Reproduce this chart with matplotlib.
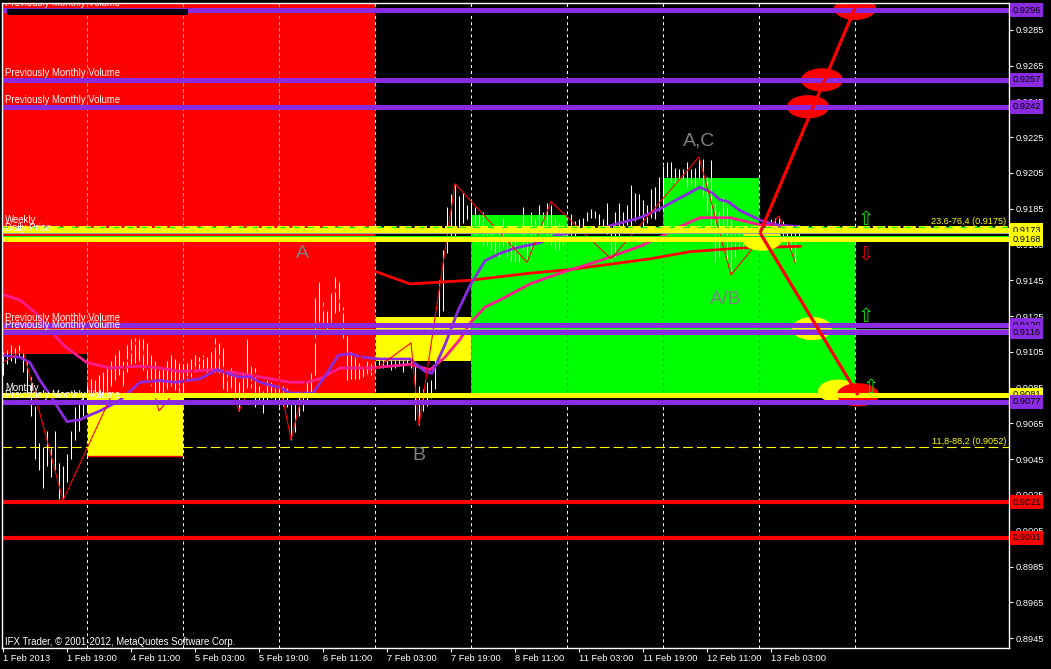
import numpy as np
import matplotlib
matplotlib.use('Agg')
import matplotlib.pyplot as plt
import matplotlib.transforms as mtransforms
from matplotlib.patches import Rectangle, Polygon, Ellipse

plt.rcParams['font.family'] = ['Liberation Sans', 'DejaVu Sans']
plt.rcParams['lines.scale_dashes'] = False

# ---------------- data ----------------
# hourly bars (index = hour bar), prices in pips (price * 10000)
bar_high_pips = [
    9105, 9106, 9109, 9107, 9109, 9106, 9100, 9091, 9075, 9054,
    9052, 9061, 9051, 9061, 9043, 9041, 9048, 9061, 9074, 9077,
    9082, 9086, 9090, 9089, 9092, 9094, 9096, 9100, 9103, 9106,
    9100, 9109, 9112, 9113, 9114, 9112, 9110, 9103, 9100, 9095,
    9096, 9100, 9103, 9101, 9099, 9098, 9099, 9101, 9103, 9102,
    9103, 9102, 9105, 9113, 9110, 9107, 9093, 9096, 9092, 9088,
    9094, 9112, 9097, 9096, 9086, 9083, 9089, 9088, 9085, 9086,
    9086, 9085, 9076, 9078, 9080, 9082, 9088, 9093, 9135, 9144,
    9133, 9128, 9138, 9147, 9144, 9130, 9114, 9105, 9102, 9099,
    9097, 9100, 9098, 9100, 9102, 9102, 9103, 9103, 9102, 9102,
    9102, 9106, 9110, 9098, 9086, 9084, 9088, 9089, 9110, 9145,
    9162, 9186, 9193, 9199, 9192, 9194, 9187, 9190, 9186, 9182,
    9183, 9174, 9172, 9168, 9173, 9180, 9168, 9169, 9168, 9160,
    9186, 9168, 9183, 9179, 9187, 9183, 9188, 9187, 9180, 9177,
    9176, 9176, 9182, 9178, 9179, 9180, 9183, 9185, 9184, 9182,
    9179, 9188, 9175, 9183, 9188, 9183, 9187, 9198, 9194, 9193,
    9190, 9187, 9196, 9197, 9203, 9209, 9211, 9211, 9208, 9207,
    9207, 9211, 9207, 9208, 9213, 9213, 9203, 9212, 9188, 9184,
    9192, 9186, 9180, 9175, 9173, 9175, 9173, 9175, 9173, 9174,
    9176, 9178, 9179, 9180, 9181, 9178, 9176, 9174, 9173, 9176]
bar_low_pips = [
    9092, 9098, 9100, 9099, 9102, 9094, 9080, 9069, 9045, 9039,
    9029, 9041, 9035, 9039, 9023, 9022, 9032, 9045, 9056, 9061,
    9069, 9072, 9075, 9078, 9079, 9081, 9083, 9086, 9089, 9092,
    9086, 9094, 9098, 9099, 9100, 9095, 9090, 9086, 9081, 9072,
    9079, 9084, 9086, 9083, 9078, 9075, 9089, 9091, 9094, 9095,
    9096, 9094, 9095, 9094, 9093, 9084, 9083, 9083, 9080, 9072,
    9082, 9085, 9085, 9074, 9078, 9071, 9078, 9079, 9077, 9075,
    9075, 9074, 9056, 9060, 9069, 9072, 9078, 9082, 9092, 9119,
    9121, 9117, 9120, 9127, 9128, 9113, 9089, 9090, 9090, 9090,
    9091, 9092, 9092, 9094, 9096, 9096, 9097, 9095, 9096, 9097,
    9094, 9098, 9096, 9067, 9064, 9072, 9075, 9079, 9084, 9109,
    9128, 9160, 9168, 9170, 9173, 9177, 9179, 9174, 9169, 9173,
    9164, 9164, 9162, 9160, 9158, 9164, 9158, 9156, 9155, 9155,
    9162, 9155, 9162, 9169, 9174, 9172, 9168, 9165, 9162, 9162,
    9165, 9168, 9168, 9170, 9172, 9174, 9178, 9180, 9180, 9176,
    9174, 9171, 9156, 9158, 9169, 9175, 9176, 9175, 9178, 9180,
    9175, 9177, 9180, 9179, 9184, 9184, 9203, 9200, 9199, 9201,
    9201, 9197, 9198, 9197, 9201, 9192, 9183, 9173, 9155, 9158,
    9171, 9156, 9150, 9158, 9162, 9162, 9164, 9166, 9168, 9168,
    9168, 9169, 9168, 9165, 9170, 9168, 9165, 9162, 9155, 9168]

# ZigZag indicator turning points
zz_bar = [0, 5, 15, 34, 39, 53, 59, 67, 72, 82, 91, 102, 104, 113, 131, 137, 152, 174, 182, 194, 198]
zz_price = [0.9099, 0.9106, 0.9022, 0.9114, 0.9072, 0.9109, 0.9072, 0.9112, 0.9056, 0.9146,
            0.9092, 0.9110, 0.9064, 0.9199, 0.9155, 0.9189, 0.9157, 0.9214, 0.9148, 0.9181, 0.9155]

# moving averages
ma_purple_bar = [0, 4.25, 6.75, 9.25, 11.75, 14.25, 16, 19.25, 21, 24.25, 29.25, 34.25, 39.25, 43,
                 49.25, 53.5, 58.75, 61.75, 64.25, 69.25, 71.75, 77.5, 81, 83.75, 86.75, 89.75,
                 94.25, 101.75, 105.5, 107.25, 110.5, 113.75, 116.75, 120.5, 124.25, 128, 134.25,
                 138, 149.25, 159.25, 164.25, 169.25, 174.25, 177.25, 179.25, 181.25, 184.25, 188,
                 190, 193.5, 198.5]
ma_purple_price = [0.9103, 0.9102, 0.9099, 0.9089, 0.9081, 0.9072, 0.9066, 0.9067, 0.9069, 0.9072,
                   0.9078, 0.9088, 0.9089, 0.9088, 0.9090, 0.9095, 0.9091, 0.9091, 0.9088, 0.9085,
                   0.9082, 0.9082, 0.9093, 0.9103, 0.9104, 0.9102, 0.9101, 0.9101, 0.9094, 0.9093,
                   0.9109, 0.9128, 0.9142, 0.9156, 0.9160, 0.9163, 0.9166, 0.9170, 0.9174, 0.9180,
                   0.9185, 0.9191, 0.9197, 0.9194, 0.9190, 0.9189, 0.9184, 0.9180, 0.9178, 0.9176,
                   0.9175]
ma_pink_bar = [0, 4.25, 8, 11.75, 15.5, 21, 26.75, 34.25, 39.25, 44.25, 53, 59.25, 64.25, 71.75,
               76, 79.25, 84.25, 91.75, 101.75, 106.75, 110.5, 114.25, 116.75, 120.5, 124.25,
               131.75, 139.25, 149.25, 159.25, 165, 169.25, 174.25, 181.75, 189.25, 196.75]
ma_pink_price = [0.9137, 0.9134, 0.9127, 0.9117, 0.9108, 0.9099, 0.9096, 0.9097, 0.9096, 0.9094,
                 0.9095, 0.9093, 0.9091, 0.9088, 0.9088, 0.9090, 0.9096, 0.9096, 0.9098, 0.9095,
                 0.9102, 0.9112, 0.9121, 0.9130, 0.9134, 0.9143, 0.9149, 0.9156, 0.9164, 0.9170,
                 0.9175, 0.9180, 0.9180, 0.9176, 0.9175]
ma_red_bar = [93, 101.75, 109.25, 116.75, 131.75, 141.75, 151.75, 161.75, 171.75, 184.25, 199.25]
ma_red_price = [0.9150, 0.9143, 0.9144, 0.9145, 0.9149, 0.9151, 0.9154, 0.9157, 0.9161, 0.9163, 0.9164]

# horizontal levels
purple_levels = [0.9296, 0.9257, 0.9242, 0.9120, 0.9116, 0.9077]
yellow_levels = [0.9173, 0.9168, 0.9081]
red_levels = [0.9021, 0.9001]
fib_levels = [0.9175, 0.9052]
fib_texts = ['23.6-76,4 (0.9175)', '11,8-88,2 (0.9052)']

# daily boxes: (start bar, end bar, low price, high price)
red_zone_bar = [-0.25, 93, 93, 21, 21, -0.25]
red_zone_price = [0.9305, 0.9305, 0.9080, 0.9080, 0.9104, 0.9104]
yellow_boxes = [(21, 45, 0.9047, 0.9080), (93, 117, 0.9100, 0.91245)]
green_boxes = [(117, 213, 0.9080, 0.9168), (117, 141, 0.9168, 0.91815), (165, 189, 0.9168, 0.9202)]

# day separators
day_sep_bars = [21, 45, 69, 93, 117, 141, 165, 189, 213]

# projection lines and marker ellipses
proj_start = (189.25, 0.91715)
proj_ends = [(213.0, 0.92972), (213.75, 0.90809)]
red_ellipses = [(213.0, 0.9297), (204.75, 0.9257), (201.25, 0.9242), (213.75, 0.9081)]
yellow_ellipses = [(202.25, 0.9118), (189.75, 0.9168), (208.75, 0.9083)]

wave_labels = ['A', 'B', 'A,C', 'A/B']
wave_pos = [(74.75, 0.9160), (104.0, 0.9047), (174.0, 0.9223), (180.75, 0.9134)]

arrow_marks = [('\u21e7', 215.75, 0.9179, '#00E000'), ('\u21e9', 215.75, 0.9159, '#E00000'),
               ('\u21e7', 215.75, 0.9125, '#00E000'), ('\u21e7', 217.0, 0.9085, '#00E000')]

xtick_bars = [0, 16, 32, 48, 64, 80, 96, 112, 128, 144, 160, 176, 192]
xtick_labels = ['1 Feb 2013', '1 Feb 19:00', '4 Feb 11:00', '5 Feb 03:00', '5 Feb 19:00',
                '6 Feb 11:00', '7 Feb 03:00', '7 Feb 19:00', '8 Feb 11:00', '11 Feb 03:00',
                '11 Feb 19:00', '12 Feb 11:00', '13 Feb 03:00']
ytick_labels = ['0.8945', '0.8965', '0.8985', '0.9005', '0.9025', '0.9045', '0.9065', '0.9085',
                '0.9105', '0.9125', '0.9145', '0.9165', '0.9185', '0.9205', '0.9225', '0.9245',
                '0.9265', '0.9285']

# ---------------- figure ----------------
PURPLE = '#8A2BE2'
YELLOW = '#FFFF00'
RED = '#FF0000'
GREEN = '#00FF00'

fig = plt.figure(figsize=(10.51, 6.69), dpi=100, facecolor='black')
ax = fig.add_axes([2 / 1051, 21 / 669, 1007 / 1051, 645 / 669], facecolor='black')
ax.set_xlim(-0.25, 251.5)
ax.set_ylim(0.893947, 0.930000)
ymin, ymax = ax.get_ylim()

# boxes
red_poly = Polygon(list(zip(red_zone_bar, red_zone_price)), closed=True, fc=RED, ec='none', zorder=1)
ax.add_patch(red_poly)
y_patches = []
for x0, x1, lo, hi in yellow_boxes:
    p = Rectangle((x0, lo), x1 - x0, hi - lo, fc=YELLOW, ec='none', zorder=1)
    ax.add_patch(p)
    y_patches.append(p)
ax.plot([yellow_boxes[0][0], yellow_boxes[0][1]], [yellow_boxes[0][2]] * 2, color=RED, lw=1, zorder=1.2)
g_patches = []
for x0, x1, lo, hi in green_boxes:
    p = Rectangle((x0, lo), x1 - x0, hi - lo, fc=GREEN, ec='none', zorder=1)
    ax.add_patch(p)
    g_patches.append(p)

# day separators (XOR-like colouring)
dash = (0, (2.2, 2.2))
ax.vlines(day_sep_bars, ymin, ymax, colors='white', lw=0.75, linestyles=[dash], zorder=1.5)
for patch, col in [(red_poly, '#00FFFF')] + [(p, '#FF00FF') for p in g_patches] + [(p, '#0000FF') for p in y_patches]:
    lc = ax.vlines(day_sep_bars, ymin, ymax, colors=col, lw=0.75, linestyles=[dash], zorder=1.6)
    lc.set_clip_path(patch)

# price bars
bars = np.arange(len(bar_high_pips))
ax.vlines(bars, np.array(bar_low_pips) / 10000, np.array(bar_high_pips) / 10000,
          colors='white', lw=0.75, zorder=2)

# indicators
ax.plot(ma_red_bar, ma_red_price, color=RED, lw=2.0, zorder=2.6)
ax.plot(ma_pink_bar, ma_pink_price, color='#FF1C8E', lw=2.0, zorder=2.7)
ax.plot(ma_purple_bar, ma_purple_price, color=PURPLE, lw=2.0, zorder=2.8)
ax.plot(zz_bar, zz_price, color=RED, lw=0.8, zorder=2.9)

# ellipses (under the levels)
for cx, cy in yellow_ellipses:
    ax.add_patch(Ellipse((cx, cy), 10, 0.0013, fc=YELLOW, ec='none', zorder=3.2))
for cx, cy in red_ellipses:
    ax.add_patch(Ellipse((cx, cy), 10.5, 0.0013, fc=RED, ec='none', zorder=3.3))

# horizontal levels
for lv in purple_levels:
    ax.axhline(lv, color=PURPLE, lw=3.6, zorder=4)
for lv in yellow_levels:
    ax.axhline(lv, color=YELLOW, lw=3.6, zorder=4)
for lv in red_levels:
    ax.axhline(lv, color=RED, lw=3.0, zorder=4)
ax.axhline(fib_levels[0], color=YELLOW, lw=1.4, ls=(0, (9, 2)), zorder=4.1)
ax.axhline(fib_levels[0], color=GREEN, lw=0.9, ls=(0, (4, 6)), zorder=4.2)
ax.axhline(0.91712, color='#A0A0A0', lw=0.8, zorder=4.1)
ax.axhline(0.91698, color=GREEN, lw=0.8, zorder=4.1)
ax.axhline(0.91180, color='#A0A0A0', lw=0.6, zorder=4.1)
ax.axhline(fib_levels[1], color=YELLOW, lw=0.8, ls=(0, (7, 3)), zorder=4.1)

# top-left black label strip
ax.add_patch(Rectangle((1.0, 0.92933), 45.25, 0.00034, fc='black', ec='none', zorder=4.5))

# projection lines
for ex, ey in proj_ends:
    ax.plot([proj_start[0], ex], [proj_start[1], ey], color=RED, lw=2.3, zorder=5,
            solid_capstyle='butt')

# level labels
lbl_kw = dict(color='white', fontsize=6.9, ha='left', va='bottom', zorder=6, clip_on=True)
for lv in purple_levels:
    ax.text(0.5, lv + 0.00012, 'Previously Monthly Volume', **lbl_kw)
ax.text(0.5, 0.91758, 'Weekly', **lbl_kw)
ax.text(0.5, 0.91712, 'Daily Price', **lbl_kw)
ax.text(0.5, 0.90822, 'Monthly', **lbl_kw)

for lv, t in zip(fib_levels, fib_texts):
    ax.text(250.75, lv + 0.00004, t, color=YELLOW, fontsize=6.6, ha='right', va='bottom', zorder=6)

for t, (bx, py) in zip(wave_labels, wave_pos):
    ax.text(bx, py, t, color='#808080', fontsize=14, ha='center', va='center', zorder=6)

for g, bx, py, col in arrow_marks:
    ax.text(bx, py, g, color=col, fontsize=14, ha='center', va='center', zorder=6,
            family=['DejaVu Sans'])

ax.text(0.003, 0.001, 'IFX Trader, \u00a9 2001-2012, MetaQuotes Software Corp.', transform=ax.transAxes,
        color='white', fontsize=6.9, ha='left', va='bottom', zorder=6)

# axes styling
for s in ax.spines.values():
    s.set_color('white')
    s.set_linewidth(1.0)
    s.set_zorder(7)
ax.yaxis.tick_right()
ax.set_yticks([float(v) for v in ytick_labels])
ax.set_yticklabels(ytick_labels)
ax.set_xticks(xtick_bars)
ax.set_xticklabels(xtick_labels)
ax.tick_params(axis='both', colors='white', labelsize=6.7, length=3, width=0.8, direction='out', pad=1.5)
for lbl in ax.get_xticklabels():
    lbl.set_ha('left')

# price boxes on right scale
trans = mtransforms.blended_transform_factory(ax.transAxes, ax.transData)
box_items = [(lv, PURPLE) for lv in purple_levels] + [(lv, YELLOW) for lv in yellow_levels] + \
            [(lv, RED) for lv in red_levels]
box_order = sorted(box_items, key=lambda t: -t[0])
for lv, col in box_order:
    ax.text(1.0032, lv, '%.4f' % lv, transform=trans, color='black', fontsize=6.7, ha='left',
            va='center', zorder=10, clip_on=False,
            bbox=dict(boxstyle='square,pad=0.25', fc=col, ec='none'))

fig.savefig('out.png', dpi=100, facecolor='black')
